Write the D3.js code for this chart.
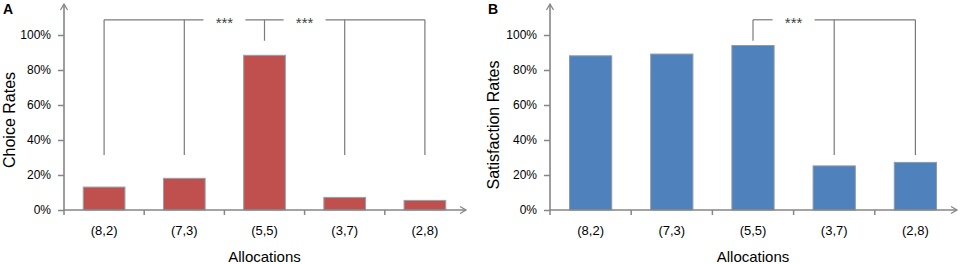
<!DOCTYPE html>
<html lang="en">
<head>
<meta charset="UTF-8">
<title>Choice and satisfaction rates</title>
<script src="https://cdn.jsdelivr.net/npm/d3@7/dist/d3.min.js"></script>
<style>
  body { margin: 0; background: #fff; }
  svg { display: block; font-family: "Liberation Sans", Arial, sans-serif; }
</style>
</head>
<body>
<script>
// data
const categories = ["(8,2)", "(7,3)", "(5,5)", "(3,7)", "(2,8)"];
const choiceRates = [13.1, 18.1, 88.4, 7.2, 5.5];
const satisfactionRates = [88.1, 89.1, 94.0, 25.2, 27.2];
const yTickValues = [0, 20, 40, 60, 80, 100];

// significance brackets: lower end of each leg (null = no leg), stars at boundary before category i
const choiceLegs = [31.4, 31.4, 96.7, 31.4, 31.4];
const choiceStars = [2, 3];
const satisfactionLegs = [null, null, 96.7, 31.4, 31.4];
const satisfactionStars = [3];
const bracketTop = 108.7;
const axisTopValue = 117.7;

const width = 964, height = 264;
const axisColor = "#868686";
const lineColor = "#7a7a7a";

const svg = d3.select("body").append("svg")
  .attr("width", width)
  .attr("height", height)
  .attr("viewBox", [0, 0, width, height]);

function arrowHead(g, x, y, dir) {
  // open chevron arrow, dir "up" or "right"
  const p = dir === "up"
    ? [[x - 3.5, y + 6], [x, y], [x + 3.5, y + 6]]
    : [[x - 6, y - 3.5], [x, y], [x - 6, y + 3.5]];
  g.append("path")
    .attr("d", d3.line()(p))
    .attr("fill", "none")
    .attr("stroke", axisColor)
    .attr("stroke-width", 1.3);
}

function drawPanel(opt) {
  const g = svg.append("g");
  const x = d3.scaleBand().domain(categories)
    .range([opt.x0, opt.x1])
    .paddingInner(0.48).paddingOuter(0.24);
  const y = d3.scaleLinear().domain([0, 100]).range([opt.y0, opt.y100]);
  const step = x.step();
  const boundary = i => opt.x0 + i * step;
  const center = c => x(c) + x.bandwidth() / 2;

  // bars
  g.append("g").selectAll("rect")
    .data(opt.values)
    .join("rect")
    .attr("x", (d, i) => x(categories[i]))
    .attr("y", d => y(d))
    .attr("width", x.bandwidth())
    .attr("height", d => y(0) - y(d))
    .attr("fill", opt.color)
    .attr("stroke", opt.edge)
    .attr("stroke-width", 1);

  // y axis
  const yAxis = g.append("g")
    .attr("transform", `translate(${opt.x0},0)`)
    .call(d3.axisLeft(y).tickValues(yTickValues)
      .tickFormat(d => d + "%").tickSize(6).tickPadding(7));
  yAxis.select(".domain").remove();
  yAxis.selectAll(".tick line").attr("stroke", axisColor).attr("stroke-width", 1.5);
  yAxis.selectAll(".tick text").attr("font-size", 12).attr("fill", "#000")
    .attr("font-family", "Liberation Sans, Arial, sans-serif");
  g.append("line")
    .attr("x1", opt.x0).attr("x2", opt.x0)
    .attr("y1", y(0) + 1).attr("y2", y(axisTopValue))
    .attr("stroke", axisColor).attr("stroke-width", 1.6);
  arrowHead(g, opt.x0, y(axisTopValue), "up");

  // x axis
  const xAxis = g.append("g")
    .attr("transform", `translate(0,${opt.y0})`)
    .call(d3.axisBottom(x).tickSize(0).tickPadding(16));
  xAxis.select(".domain").remove();
  xAxis.selectAll(".tick text").attr("font-size", 13).attr("fill", "#000")
    .attr("font-family", "Liberation Sans, Arial, sans-serif");
  g.append("line")
    .attr("x1", opt.x0).attr("x2", opt.x1 + 1)
    .attr("y1", y(0)).attr("y2", y(0))
    .attr("stroke", axisColor).attr("stroke-width", 1.6);
  g.append("g").selectAll("line")
    .data(d3.range(categories.length))
    .join("line")
    .attr("x1", i => boundary(i)).attr("x2", i => boundary(i))
    .attr("y1", y(0)).attr("y2", y(0) + 5)
    .attr("stroke", axisColor).attr("stroke-width", 1.5);
  arrowHead(g, opt.x1 + 1, y(0), "right");

  // axis titles
  g.append("text")
    .attr("x", (opt.x0 + opt.x1) / 2)
    .attr("y", 262)
    .attr("text-anchor", "middle")
    .attr("font-size", 15)
    .text("Allocations");
  g.append("text")
    .attr("transform", `translate(${opt.titleX},${opt.titleY}) rotate(-90)`)
    .attr("text-anchor", "middle")
    .attr("font-size", 16)
    .text(opt.yTitle);

  // panel letter
  g.append("text")
    .attr("x", opt.letterX).attr("y", 14)
    .attr("font-size", 14).attr("font-weight", "bold")
    .text(opt.letter);

  // significance bracket
  const legIdx = opt.legs.map((d, i) => i).filter(i => opt.legs[i] !== null);
  const first = center(categories[legIdx[0]]);
  const last = center(categories[legIdx[legIdx.length - 1]]);
  const yTop = y(bracketTop);
  const gap = 21;
  const cuts = opt.stars.map(b => boundary(b));
  let segs = [], start = first;
  cuts.forEach(c => { segs.push([start, c - gap]); start = c + gap; });
  segs.push([start, last]);

  const br = g.append("g").attr("stroke", lineColor).attr("stroke-width", 1.2).attr("fill", "none");
  br.selectAll("line.h").data(segs).join("line")
    .attr("class", "h")
    .attr("x1", d => d[0]).attr("x2", d => d[1])
    .attr("y1", yTop).attr("y2", yTop);
  br.selectAll("line.v").data(legIdx).join("line")
    .attr("class", "v")
    .attr("x1", i => center(categories[i])).attr("x2", i => center(categories[i]))
    .attr("y1", yTop).attr("y2", i => y(opt.legs[i]));

  g.append("g").selectAll("text").data(cuts).join("text")
    .attr("x", d => d)
    .attr("y", yTop + 8.5)
    .attr("text-anchor", "middle")
    .attr("font-size", 15)
    .attr("fill", "#404040")
    .text("***");
}

drawPanel({
  x0: 64, x1: 465, y0: 210, y100: 35,
  values: choiceRates, color: "#C0504D", edge: "#8fa3ab",
  legs: choiceLegs, stars: choiceStars,
  yTitle: "Choice Rates", titleX: 15, titleY: 120,
  letter: "A", letterX: 3
});

drawPanel({
  x0: 550, x1: 956, y0: 210, y100: 35,
  values: satisfactionRates, color: "#4F81BD", edge: "#8f9aa6",
  legs: satisfactionLegs, stars: satisfactionStars,
  yTitle: "Satisfaction Rates", titleX: 499, titleY: 125,
  letter: "B", letterX: 488
});
</script>
</body>
</html>
